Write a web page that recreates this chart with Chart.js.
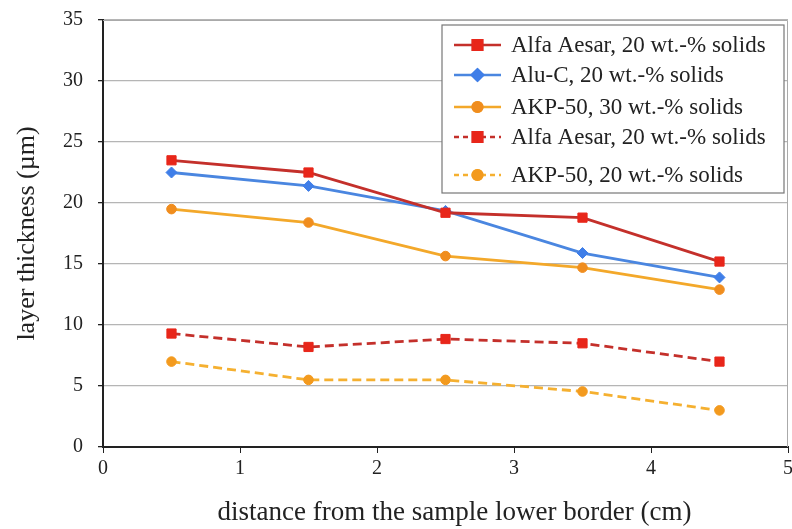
<!DOCTYPE html>
<html>
<head>
<meta charset="utf-8">
<script src="https://cdn.jsdelivr.net/npm/chart.js@4.4.1/dist/chart.umd.min.js"></script>
<style>
  html, body { margin: 0; padding: 0; background: #fff; }
  #wrap { width: 792px; height: 529px; }
</style>
</head>
<body>
<div id="wrap"><canvas id="chart" width="792" height="529"></canvas></div>
<script>
// distance from the sample lower border (cm)
const distances = [0.5, 1.5, 2.5, 3.5, 4.5];

// layer thickness (um)
const alfaAesar20 = [23.5, 22.5, 19.2, 18.8, 15.2];
const aluC20 = [22.5, 21.4, 19.35, 15.9, 13.9];
const akp50_30 = [19.5, 18.4, 15.65, 14.7, 12.9];
const alfaAesar20b = [9.3, 8.2, 8.85, 8.5, 7.0];
const akp50_20 = [7.0, 5.5, 5.5, 4.55, 3.0];

const seriesLabels = [
  'Alfa Aesar, 20 wt.-% solids',
  'Alu-C, 20 wt.-% solids',
  'AKP-50, 30 wt.-% solids',
  'Alfa Aesar, 20 wt.-% solids',
  'AKP-50, 20 wt.-% solids',
];

const xTitle = 'distance from the sample lower border (cm)';
const yTitle = 'layer thickness (µm)';

const FONT = '"Liberation Serif", "Times New Roman", serif';

const toPoints = (vals) => vals.map((v, i) => ({ x: distances[i], y: v }));

function makeSet(label, vals, lineColor, pointColor, style, radius, dashed) {
  return {
    label,
    data: toPoints(vals),
    borderColor: lineColor,
    backgroundColor: pointColor,
    pointBackgroundColor: pointColor,
    pointBorderColor: pointColor,
    pointStyle: style,
    pointRadius: radius,
    pointBorderWidth: 1,
    borderWidth: 2.8,
    borderDash: dashed ? [9, 5] : [],
    tension: 0,
  };
}

const datasets = [
  makeSet(seriesLabels[0], alfaAesar20, '#c4302b', '#e8261a', 'rect', 6.5, false),
  makeSet(seriesLabels[1], aluC20, '#4a86e0', '#3f7ee8', 'rectRot', 5.5, false),
  makeSet(seriesLabels[2], akp50_30, '#f3a82a', '#f08d1e', 'circle', 4.8, false),
  makeSet(seriesLabels[3], alfaAesar20b, '#c4302b', '#e8261a', 'rect', 6.5, true),
  makeSet(seriesLabels[4], akp50_20, '#f5b030', '#f39a1e', 'circle', 4.8, true),
];

// Custom legend: line sample with marker in the middle, boxed, top right
const boxLegend = {
  id: 'boxLegend',
  afterDraw(chart) {
    const { ctx, chartArea } = chart;
    const w = 342;
    const h = 168;
    const left = chartArea.right - 4 - w;
    const top = chartArea.top + 5;
    const rowY = [20, 50, 82, 112, 150];

    ctx.save();
    ctx.fillStyle = '#fff';
    ctx.fillRect(left, top, w, h);
    ctx.strokeStyle = '#777';
    ctx.lineWidth = 1.2;
    ctx.strokeRect(left, top, w, h);

    chart.data.datasets.forEach((ds, i) => {
      const y = top + rowY[i];
      const x0 = left + 12;
      const x1 = left + 59;
      ctx.strokeStyle = ds.borderColor;
      ctx.lineWidth = 2.6;
      ctx.setLineDash(ds.borderDash.length ? [5, 4] : []);
      ctx.beginPath();
      ctx.moveTo(x0, y);
      ctx.lineTo(x1, y);
      ctx.stroke();
      ctx.setLineDash([]);
      Chart.helpers.drawPoint(ctx, {
        pointStyle: ds.pointStyle,
        radius: ds.pointRadius,
        borderWidth: 1,
      }, (x0 + x1) / 2, y);
      ctx.fillStyle = ds.pointBackgroundColor;
      ctx.strokeStyle = ds.pointBorderColor;
      ctx.fill();
      ctx.stroke();

      ctx.fillStyle = '#222';
      ctx.font = '23px ' + FONT;
      ctx.textBaseline = 'middle';
      ctx.textAlign = 'left';
      ctx.fillText(ds.label, left + 69, y + 1);
    });
    ctx.restore();
  },
};

// Thin frame on the top and right of the plot area, plus the x-axis title
// (the title sits a little right of the plot centre in the original)
const frame = {
  id: 'frame',
  beforeDatasetsDraw(chart) {
    const { ctx, chartArea } = chart;
    ctx.save();
    ctx.strokeStyle = '#aaa';
    ctx.lineWidth = 1;
    ctx.beginPath();
    ctx.moveTo(chartArea.left, chartArea.top + 0.5);
    ctx.lineTo(chartArea.right - 0.5, chartArea.top + 0.5);
    ctx.lineTo(chartArea.right - 0.5, chartArea.bottom);
    ctx.stroke();
    ctx.restore();
  },
  afterDraw(chart) {
    const { ctx, chartArea } = chart;
    ctx.save();
    ctx.fillStyle = '#222';
    ctx.font = '27px ' + FONT;
    ctx.textAlign = 'center';
    ctx.textBaseline = 'middle';
    ctx.fillText(xTitle, (chartArea.left + chartArea.right) / 2 + 9, chart.height - 16);
    ctx.restore();
  },
};

new Chart(document.getElementById('chart'), {
  type: 'line',
  data: { datasets },
  options: {
    responsive: false,
    animation: false,
    layout: { autoPadding: false, padding: { top: 20, right: 4, left: 0, bottom: 0 } },
    plugins: {
      legend: { display: false },
      tooltip: { enabled: false },
    },
    scales: {
      x: {
        type: 'linear',
        min: 0,
        max: 5,
        ticks: {
          stepSize: 1,
          color: '#222',
          font: { family: FONT, size: 20 },
          padding: 4,
        },
        grid: {
          display: true,
          drawOnChartArea: false,
          drawTicks: true,
          tickLength: 6,
          color: '#222',
        },
        border: { color: '#222', width: 2 },
        title: { display: false },
        afterFit(scale) {
          scale.height = 82;
          scale.paddingRight = 0;
          scale.paddingLeft = 0;
        },
      },
      y: {
        min: 0,
        max: 35,
        ticks: {
          stepSize: 5,
          color: '#222',
          font: { family: FONT, size: 20 },
          padding: 15,
        },
        grid: {
          color: '#b5b5b5',
          lineWidth: 1.3,
          tickLength: 5,
          tickColor: '#222',
        },
        border: { color: '#222', width: 2 },
        title: {
          display: true,
          text: yTitle,
          color: '#222',
          font: { family: FONT, size: 26 },
          padding: { top: 12, bottom: 0 },
        },
        afterFit(scale) {
          scale.width = 103;
          scale.paddingTop = 0;
          scale.paddingBottom = 0;
        },
      },
    },
  },
  plugins: [frame, boxLegend],
});
</script>
</body>
</html>
